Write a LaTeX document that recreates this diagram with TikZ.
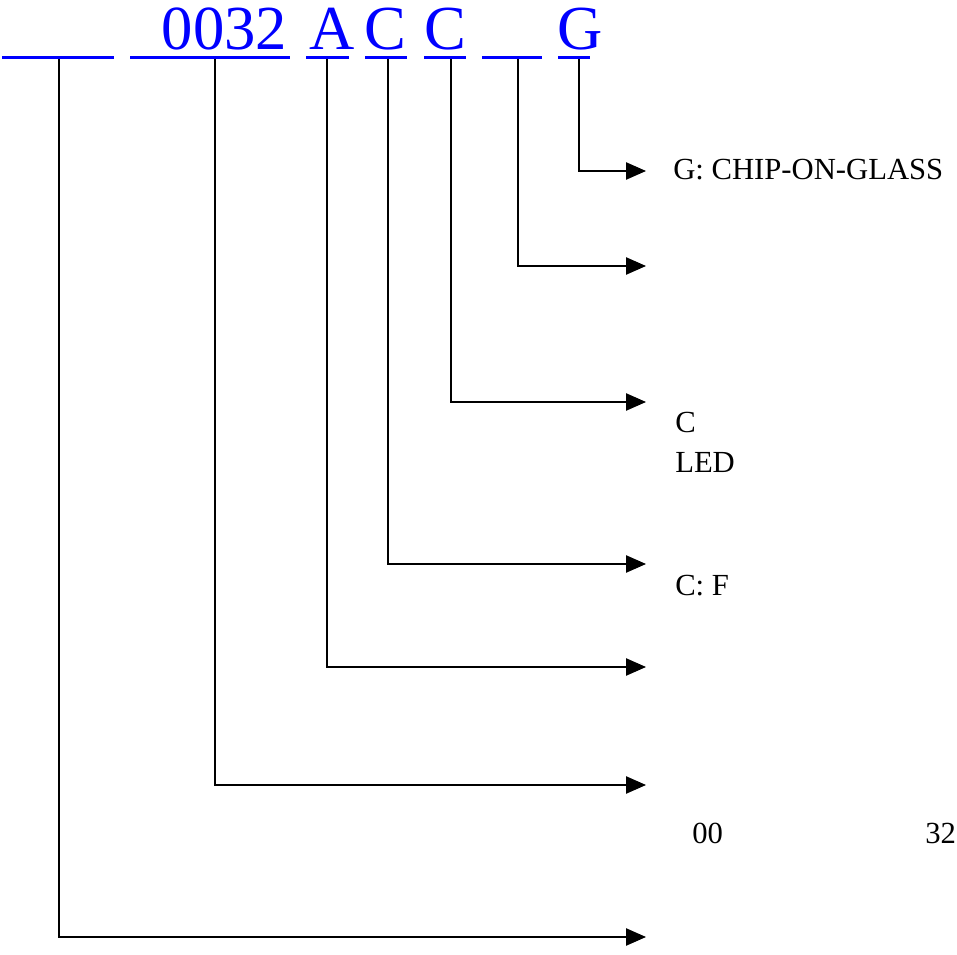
\documentclass[tikz,border=0pt]{standalone}
\usepackage{fontspec}
\setmainfont{Liberation Serif}
\usetikzlibrary{arrows.meta}

\begin{document}
\begin{tikzpicture}[
        x=0.75pt, y=-0.75pt,
        code/.style={anchor=base, inner sep=0pt, text=blue, font=\fontsize{47}{56}\selectfont},
        uline/.style={draw=blue, line width=2.25pt},
        lbl/.style={anchor=base west, inner sep=0pt, font=\fontsize{23}{28}\selectfont},
        link/.style={draw=black, line width=1pt, -{Triangle[length=15pt, width=13pt]}}
    ]
    \useasboundingbox (0,0) rectangle (957,955);

    % Define the code characters
    \node[code] (c0032) at (224.5,50) {0032};
    \node[code] (cA) at (332,50) {A};
    \node[code] (cC1) at (385.5,50) {C};
    \node[code] (cC2) at (445.5,50) {C};
    \node[code] (cG) at (580,50) {G};

    % Underlines of the fields
    \foreach \a/\b in {2/114, 130/290, 306/349, 365/407, 424/466, 482/542, 558/590}
        \draw[uline] (\a,58) -- (\b,58);

    % Define the start and end points of the arrows
    \coordinate (t1) at (59,59);  \coordinate (e1) at (646,937);
    \coordinate (t2) at (215,59); \coordinate (e2) at (646,785);
    \coordinate (t3) at (327,59); \coordinate (e3) at (646,667);
    \coordinate (t4) at (388,59); \coordinate (e4) at (646,564);
    \coordinate (t5) at (451,59); \coordinate (e5) at (646,402);
    \coordinate (t6) at (518,59); \coordinate (e6) at (646,266);
    \coordinate (t7) at (579,59); \coordinate (e7) at (646,171);

    % Define the labels
    \node[lbl] (lcog) at (673,180) {G: CHIP-ON-GLASS};
    \node[lbl] (lc) at (675,433) {C};
    \node[lbl] (lled) at (675,473) {LED};
    \node[lbl] (lcf) at (675,595) {C: F};
    \node[lbl] (l00) at (692,843) {00};
    \node[lbl] (l32) at (925,843) {32};

    % Draw the arrows
    \draw[link] (t1) |- (e1);
    \draw[link] (t2) |- (e2);
    \draw[link] (t3) |- (e3);
    \draw[link] (t4) |- (e4);
    \draw[link] (t5) |- (e5);
    \draw[link] (t6) |- (e6);
    \draw[link] (t7) |- (e7);
\end{tikzpicture}
\end{document}
